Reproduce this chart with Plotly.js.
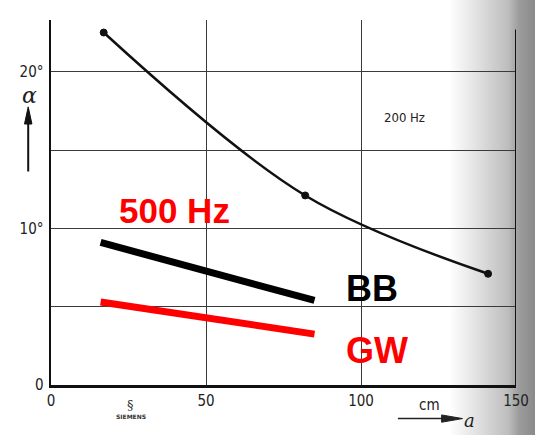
<!DOCTYPE html>
<html>
<head>
<meta charset="utf-8">
<script src="https://cdn.plot.ly/plotly-3.0.1.min.js"></script>
<style>
html,body{margin:0;padding:0;}
body{width:535px;height:435px;background:linear-gradient(to right,#ffffff 0%,#ffffff 84%,#e2e2e2 89%,#bdbdbd 95%,#9c9c9c 97%,#8a8a8a 100%);}
#chart{width:535px;height:435px;}
</style>
</head>
<body>
<div id="chart"></div>
<script>
// 200 Hz curve (measured points)
const curveX = [17, 82, 141];
const curveY = [22.5, 12.1, 7.1];
// 500 Hz lines
const bbX = [16, 85];
const bbY = [9.1, 5.4];
const gwX = [16, 85];
const gwY = [5.3, 3.25];
// axis ticks
const xTickVals = [0, 50, 100, 150];
const xTickText = ["0", "50", "100", "150"];
const yTickVals = [0, 5, 10, 15, 20];
const yTickText = ["0", "", "10°", "", "20°"];

const tickFont = {family: "DejaVu Sans Condensed, sans-serif", size: 15, color: "#222"};

const traces = [
  {x: curveX, y: curveY, mode: "lines+markers", line: {shape: "spline", smoothing: 1, color: "#111", width: 2.5},
   marker: {size: 7, color: "#111", line: {color: "#111", width: 1}}, hoverinfo: "skip"},
  {x: bbX, y: bbY, mode: "lines", line: {color: "#000", width: 7}, hoverinfo: "skip"},
  {x: gwX, y: gwY, mode: "lines", line: {color: "#ff0000", width: 7}, hoverinfo: "skip"}
];

const layout = {
  width: 535, height: 435,
  margin: {l: 51, r: 19, t: 20, b: 50},
  paper_bgcolor: "rgba(0,0,0,0)",
  plot_bgcolor: "rgba(0,0,0,0)",
  showlegend: false,
  xaxis: {range: [0, 150], tickvals: xTickVals, ticktext: xTickText, showgrid: true, gridcolor: "#3a3a3a", gridwidth: 1,
    zeroline: false, showline: true, linecolor: "#111", linewidth: 2.5, ticks: "", ticklabelstandoff: 0, tickfont: tickFont, fixedrange: true},
  yaxis: {range: [0, 23.3], tickvals: yTickVals, ticktext: yTickText, showgrid: true, gridcolor: "#3a3a3a", gridwidth: 1,
    zeroline: false, showline: true, linecolor: "#111", linewidth: 2.5, ticks: "", ticklabelstandoff: 2, tickfont: tickFont, fixedrange: true},
  shapes: [
    {type: "line", xref: "x", yref: "y", x0: 150, x1: 150, y0: 0, y1: 22.7, line: {color: "#111", width: 2}},
    {type: "line", xref: "paper", yref: "paper", x0: -0.049, x1: -0.049, y0: 0.585, y1: 0.74, line: {color: "#111", width: 2}},
    {type: "path", xref: "paper", yref: "paper", path: "M -0.057 0.715 L -0.049 0.762 L -0.041 0.715 Z", fillcolor: "#111", line: {color: "#111", width: 1}},
    {type: "line", xref: "paper", yref: "paper", x0: 0.746, x1: 0.86, y0: -0.092, y1: -0.092, line: {color: "#222", width: 1.5}},
    {type: "path", xref: "paper", yref: "paper", path: "M 0.84 -0.082 L 0.885 -0.092 L 0.84 -0.102 Z", fillcolor: "#222", line: {color: "#222", width: 1}}
  ],
  annotations: [
    {x: 0.142, y: 0.477, xref: "paper", yref: "paper", text: "500 Hz", showarrow: false, xanchor: "left", yanchor: "middle",
     font: {family: "Liberation Sans, Arial, sans-serif", size: 35, color: "#ff0000", weight: "bold"}},
    {x: 0.63, y: 0.265, xref: "paper", yref: "paper", text: "BB", showarrow: false, xanchor: "left", yanchor: "middle",
     font: {family: "Liberation Sans, Arial, sans-serif", size: 36, color: "#000", weight: "bold"}},
    {x: 0.63, y: 0.095, xref: "paper", yref: "paper", text: "GW", showarrow: false, xanchor: "left", yanchor: "middle",
     font: {family: "Liberation Sans, Arial, sans-serif", size: 36, color: "#ff0000", weight: "bold"}},
    {x: 0.712, y: 0.734, xref: "paper", yref: "paper", text: "200 Hz", showarrow: false, xanchor: "left", yanchor: "middle",
     font: {family: "DejaVu Sans Condensed, sans-serif", size: 13, color: "#222"}},
    {x: 0.815, y: -0.055, xref: "paper", yref: "paper", text: "cm", showarrow: false, xanchor: "center", yanchor: "middle",
     font: {family: "DejaVu Sans Condensed, sans-serif", size: 15, color: "#222"}},
    {x: 0.9, y: -0.097, xref: "paper", yref: "paper", text: "<i>a</i>", showarrow: false, xanchor: "center", yanchor: "middle",
     font: {family: "DejaVu Serif, serif", size: 18, color: "#222"}},
    {x: -0.047, y: 0.792, xref: "paper", yref: "paper", text: "<i>α</i>", showarrow: false, xanchor: "center", yanchor: "middle",
     font: {family: "DejaVu Serif, serif", size: 22, color: "#222"}},
    {x: 0.171, y: -0.03, xref: "paper", yref: "paper", text: "§", showarrow: false, xanchor: "center", yanchor: "top",
     font: {family: "DejaVu Serif, serif", size: 13, color: "#333"}},
    {x: 0.171, y: -0.07, xref: "paper", yref: "paper", text: "SIEMENS", showarrow: false, xanchor: "center", yanchor: "top",
     font: {family: "DejaVu Sans, sans-serif", size: 6, color: "#333", weight: "bold"}}
  ]
};

Plotly.newPlot("chart", traces, layout, {displayModeBar: false, staticPlot: true});
</script>
</body>
</html>
